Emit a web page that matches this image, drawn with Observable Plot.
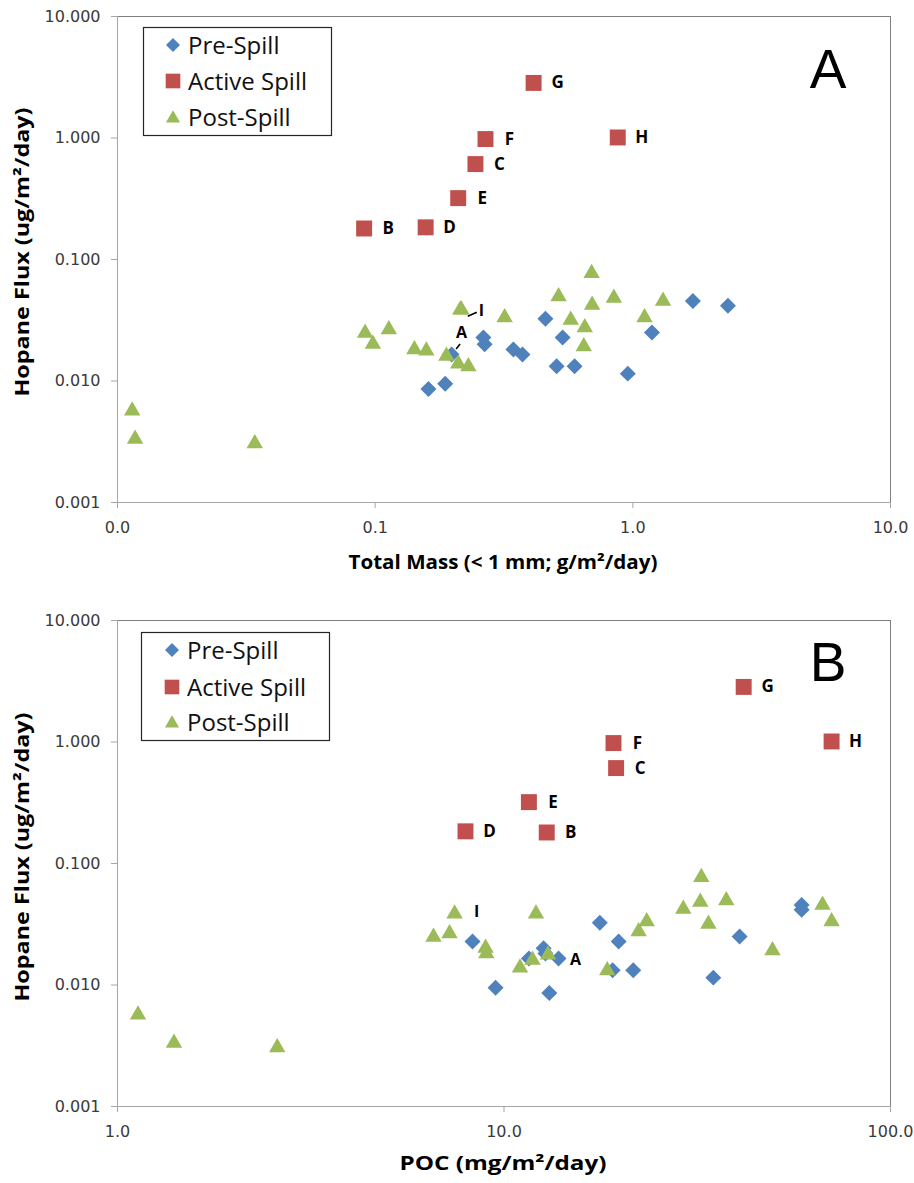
<!DOCTYPE html>
<html><head><meta charset="utf-8">
<script src="https://cdn.jsdelivr.net/npm/d3@7"></script>
<script src="https://cdn.jsdelivr.net/npm/@observablehq/plot@0.6"></script>
<style>body{margin:0;background:#fff;} #chart svg{display:block;}</style>
</head><body><div id="chart"></div>
<script>
// ---- data ----
const groups = ["Pre-Spill", "Active Spill", "Post-Spill"];
const colors = ["#4F81BD", "#C0504D", "#9BBB59"];

const preMass = [0.161, 0.187, 0.198, 0.263, 0.266, 0.344, 0.373, 0.458, 0.534, 0.506, 0.594, 0.956, 1.186, 1.71, 2.34];
const prePOC  = [13.1, 9.51, 13.84, 8.29, 12.66, 12.8, 11.6, 17.7, 19.8, 19.1, 21.6, 34.8, 40.7, 58.9, 58.9];
const preFlux = [0.0086, 0.0095, 0.0165, 0.0228, 0.0201, 0.0182, 0.0165, 0.0326, 0.0228, 0.0132, 0.0132, 0.0115, 0.0251, 0.0456, 0.0417];

const activeLabels = ["B", "C", "D", "E", "F", "G", "H"];
const activeMass = [0.0906, 0.245, 0.157, 0.210, 0.268, 0.412, 0.874];
const activePOC  = [12.9, 19.5, 7.95, 11.6, 19.2, 41.7, 70.4];
const activeFlux = [0.180, 0.61, 0.184, 0.32, 0.98, 2.84, 1.01];

const postMass = [0.0114, 0.0117, 0.0341, 0.214, 0.216, 0.0914, 0.113, 0.098, 0.142, 0.158, 0.189, 0.210, 0.230, 0.318, 0.574, 0.692, 0.515, 0.695, 0.844, 0.651, 0.645, 1.11, 1.31];
const postPOC  = [1.13, 1.40, 2.59, 7.45, 12.1, 6.57, 7.23, 8.96, 9.0, 13.0, 11.85, 11.0, 18.5, 70.4, 33.8, 32.4, 37.6, 29.1, 32.2, 22.3, 49.5, 23.4, 66.7];
const postFlux = [0.0059, 0.00346, 0.00318, 0.0400, 0.0400, 0.0258, 0.0276, 0.0209, 0.0189, 0.0184, 0.0167, 0.0144, 0.0137, 0.0346, 0.0330, 0.080, 0.0515, 0.0439, 0.050, 0.0286, 0.020, 0.0346, 0.0474];

// note labels: "I" marks post-spill sample #3, "A" marks pre-spill sample #2
const noteLabels = ["I", "A"];
const noteGroup = ["post", "pre"];
const noteIndex = [3, 2];

const fluxTicks = [0.001, 0.01, 0.1, 1, 10];
const massTicks = [0.01, 0.1, 1, 10];
const pocTicks = [1, 10, 100];

const yTitle = "Hopane Flux (ug/m²/day)";
const xTitleA = "Total Mass (< 1 mm; g/m²/day)";
const xTitleB = "POC (mg/m²/day)";

// ---- panels ----
function panel(cfg) {
  const xs = cfg.xs;
  const pre = xs.pre.map((v, i) => ({x: v, y: preFlux[i]}));
  const active = xs.active.map((v, i) => ({x: v, y: activeFlux[i], label: activeLabels[i]}));
  const post = xs.post.map((v, i) => ({x: v, y: postFlux[i]}));
  const src = {pre, post};
  const notes = noteLabels.map((t, k) => ({...src[noteGroup[k]][noteIndex[k]], label: t, k}));

  const chart = Plot.plot({
    width: 914, height: cfg.height,
    marginLeft: 117, marginRight: 24, marginTop: cfg.mt, marginBottom: cfg.mb,
    style: {background: "#fff", fontFamily: "DejaVu Sans", overflow: "visible"},
    x: {type: "log", domain: cfg.xDomain},
    y: {type: "log", domain: [0.001, 10]},
    marks: [
      Plot.ruleY([10], {stroke: "#7f7f7f"}),
      Plot.ruleX([cfg.xDomain[1]], {stroke: "#7f7f7f"}),
      Plot.ruleX([cfg.xDomain[0]], {stroke: "#a6a6a6"}),
      Plot.ruleY([0.001], {stroke: "#a6a6a6"}),
      Plot.axisX({ticks: cfg.xTicks, tickFormat: d3.format(".1f"), tickSize: 6, tickPadding: 13,
        stroke: "#a6a6a6", fill: "#3a3a3a", fontSize: 16, fontFamily: "DejaVu Sans", label: null}),
      Plot.axisY({ticks: fluxTicks, tickFormat: d3.format(".3f"), tickSize: 6, tickPadding: 11,
        stroke: "#a6a6a6", fill: "#3a3a3a", fontSize: 16, fontFamily: "DejaVu Sans", label: null}),
      Plot.dot(pre, {x: "x", y: "y", symbol: "diamond2", r: 7.2, fill: colors[0]}),
      Plot.dot(active, {x: "x", y: "y", symbol: "square", r: 9, fill: colors[1]}),
      Plot.dot(post, {x: "x", y: "y", symbol: "triangle", r: 6.1, dy: 2, fill: colors[2]}),
      Plot.text(active, {x: "x", y: "y", text: "label", dx: 24, fontSize: 17, fontWeight: "bold",
        fontFamily: "Open Sans", fill: "#000"}),
      ...notes.map(n => Plot.text([n], {x: "x", y: "y", text: "label", dx: cfg.noteOff[n.k][0], dy: cfg.noteOff[n.k][1],
        fontSize: 16, fontWeight: "bold", fontFamily: "Open Sans", fill: "#000"}))
    ]
  });

  const svg = d3.select(chart);
  const sx = chart.scale("x"), sy = chart.scale("y");
  // leader lines
  if (cfg.leaders) {
    notes.forEach(n => {
      const L = cfg.leaders[n.k];
      if (!L) return;
      const px = sx.apply(n.x), py = sy.apply(n.y);
      svg.append("line").attr("x1", px + L[0]).attr("y1", py + L[1]).attr("x2", px + L[2]).attr("y2", py + L[3])
        .attr("stroke", "#000").attr("stroke-width", 1.6);
    });
  }
  // axis titles
  svg.append("text").attr("transform", `translate(${cfg.yTitlePos[0]},${cfg.yTitlePos[1]}) rotate(-90)`)
    .attr("text-anchor", "middle").attr("dy", "0.35em")
    .attr("font-family", "Open Sans").attr("font-weight", "bold").attr("font-size", 19)
    .attr("textLength", 289).attr("lengthAdjust", "spacingAndGlyphs").attr("fill", "#000").text(yTitle);
  svg.append("text").attr("x", 503).attr("y", cfg.xTitleY)
    .attr("text-anchor", "middle").attr("dy", "0.35em")
    .attr("font-family", "Open Sans").attr("font-weight", "bold").attr("font-size", 19)
    .attr("textLength", cfg.xTitleLen).attr("lengthAdjust", "spacingAndGlyphs").attr("fill", "#000").text(cfg.xTitle);
  // panel letter
  svg.append("text").attr("x", 828).attr("y", cfg.letterY).attr("text-anchor", "middle")
    .attr("font-family", "Liberation Sans").attr("font-size", 55).attr("fill", "#000").text(cfg.letter);
  // legend
  const lg = cfg.legend;
  svg.append("rect").attr("x", lg.x + 0.5).attr("y", lg.y + 0.5).attr("width", lg.w).attr("height", lg.h)
    .attr("fill", "#fff").attr("stroke", "#262626").attr("stroke-width", 1.2);
  const legSyms = [[d3.symbolDiamond2, 125], [d3.symbolSquare, 215], [d3.symbolTriangle, 88]];
  groups.forEach((g, i) => {
    const cy = lg.rows[i];
    const dyTri = i === 2 ? 1.5 : 0;
    svg.append("path").attr("d", d3.symbol(legSyms[i][0], legSyms[i][1])())
      .attr("transform", `translate(${lg.mx},${cy + dyTri})`).attr("fill", colors[i]);
    svg.append("text").attr("x", lg.tx).attr("y", cy).attr("dy", "0.36em").attr("text-anchor", "start")
      .attr("font-family", "Open Sans").attr("font-size", 24).attr("fill", "#111").text(g);
  });
  return chart;
}

const A = panel({
  height: 590, mt: 16, mb: 88,
  xDomain: [0.01, 10], xTicks: massTicks,
  xs: {pre: preMass, active: activeMass, post: postMass},
  noteOff: [[21, 3], [10, -22]],
  leaders: [[8, 9, 17, 5], [5, -5, 9, -10]],
  yTitlePos: [22, 252], xTitleY: 562, xTitle: xTitleA, xTitleLen: 309,
  letter: "A", letterY: 88,
  legend: {x: 143, y: 27, w: 188, h: 108, rows: [45, 81, 117], mx: 173, tx: 188}
});
const B = panel({
  height: 593, mt: 30, mb: 77,
  xDomain: [1, 100], xTicks: pocTicks,
  xs: {pre: prePOC, active: activePOC, post: postPOC},
  noteOff: [[22, 0], [17, 1]],
  leaders: null,
  yTitlePos: [22, 267], xTitleY: 573, xTitle: xTitleB, xTitleLen: 207,
  letter: "B", letterY: 91,
  legend: {x: 141, y: 42, w: 188, h: 108, rows: [60, 97, 132], mx: 172, tx: 187}
});
document.getElementById("chart").append(A, B);
</script>
</body></html>
